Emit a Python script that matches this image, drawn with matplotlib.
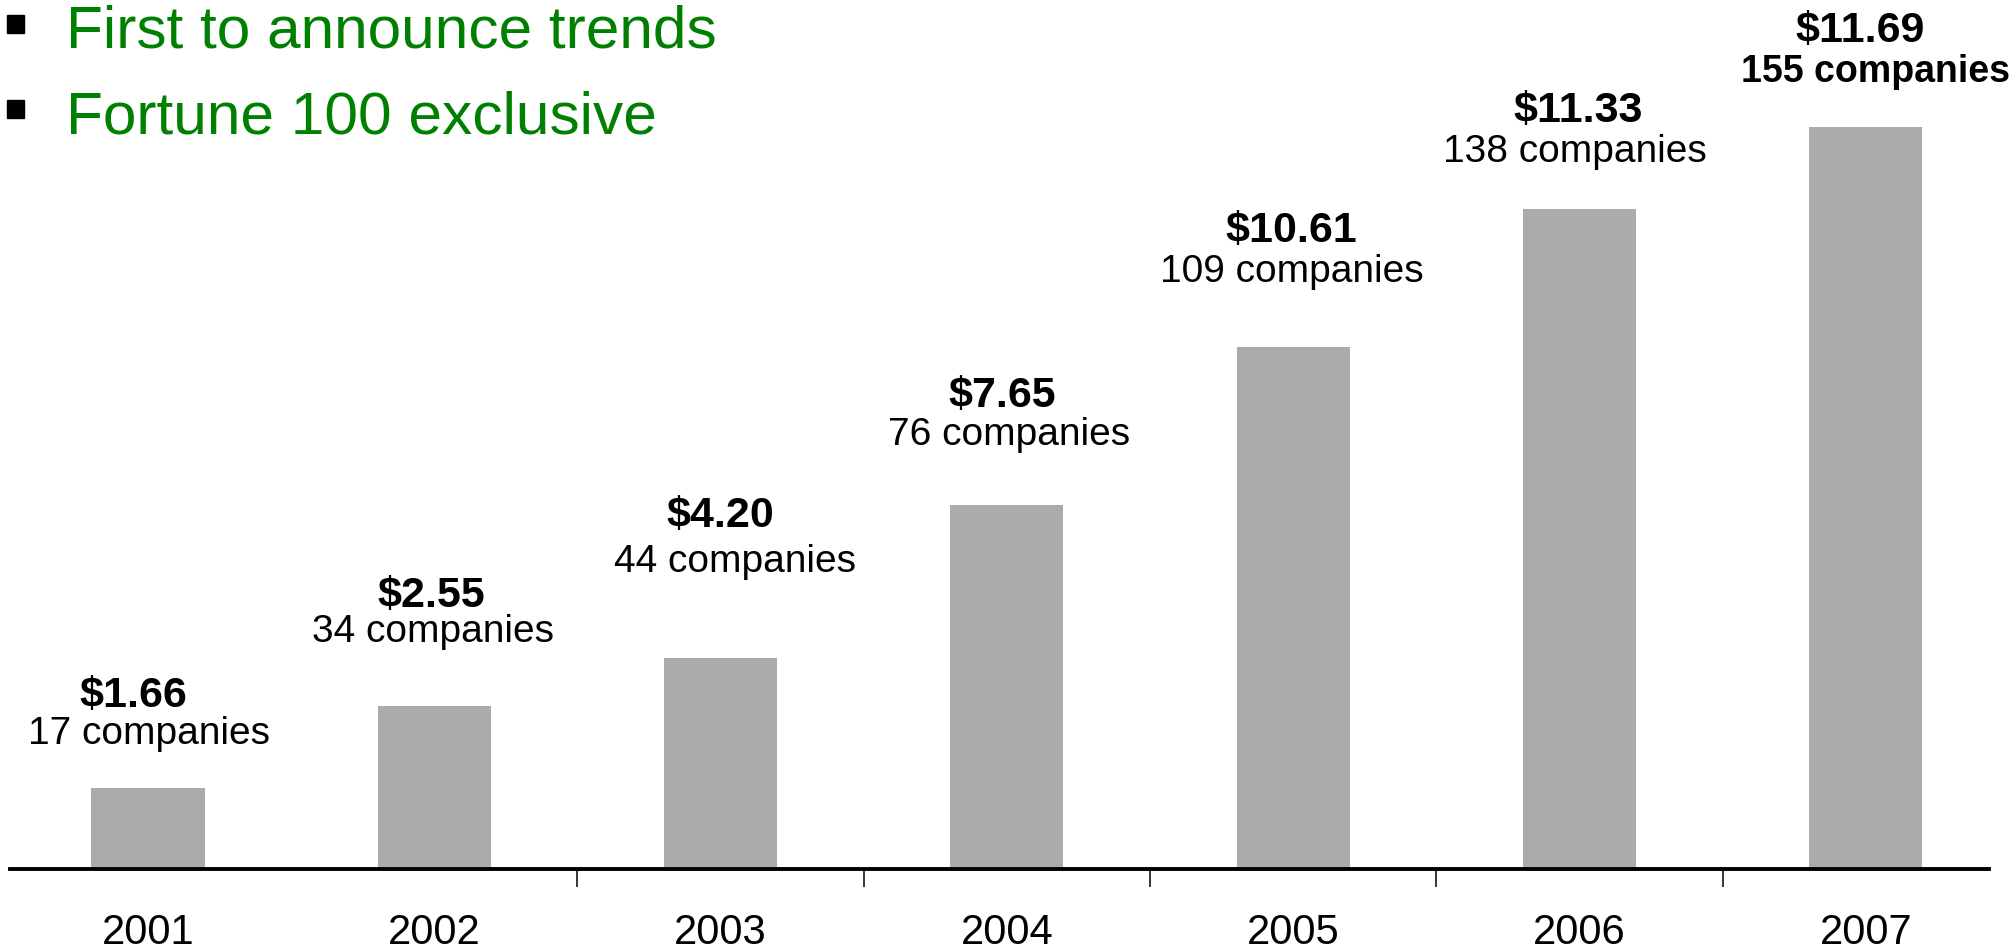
import matplotlib.pyplot as plt
from matplotlib.patches import Rectangle

# Datos
anios = ["2001", "2002", "2003", "2004", "2005", "2006", "2007"]
empresas = [17, 34, 44, 76, 109, 138, 155]
montos = [1.66, 2.55, 4.20, 7.65, 10.61, 11.33, 11.69]
puntos = ["First to announce trends", "Fortune 100 exclusive"]

plt.rcParams["font.family"] = ["Liberation Sans", "DejaVu Sans"]

W, H = 2015, 951
fig = plt.figure(figsize=(W / 100, H / 100), dpi=100)
ax = fig.add_axes([10 / W, 82 / H, 1979 / W, 869 / H])

x = list(range(len(anios)))
barras = ax.bar(x, empresas, width=0.395, color="#ababab")

ax.set_xlim(-0.482, 6.43)
ax.set_ylim(0, 181.6)

# Ejes: solo la linea inferior
for lado in ["left", "right", "top"]:
    ax.spines[lado].set_visible(False)
ax.spines["bottom"].set_linewidth(2.8)
ax.set_yticks([])

ax.set_xticks(x)
ax.set_xticklabels(anios, fontsize=30, va="baseline")
ax.tick_params(axis="x", which="major", length=0, pad=54)
ax.set_xticks([1.5, 2.5, 3.5, 4.5, 5.5], minor=True)
ax.tick_params(axis="x", which="minor", direction="out", length=13,
               width=1.1, color="black")

# Etiquetas sobre cada barra (desplazamiento en pixeles)
dy_monto = [81, 99, 131, 98, 105, 87, 85]
dy_emp = [44, 64, 86, 60, 65, 47, 45]
dx_monto = [-15, -3, 0, -5, -2, -1, -6]
dx_emp = [1, -1, 14, 2, -1, -5, 10]

for i, b in enumerate(barras):
    cx = b.get_x() + b.get_width() / 2
    ax.annotate(f"${montos[i]:.2f}", (cx, empresas[i]),
                xytext=(dx_monto[i], dy_monto[i]), textcoords="offset pixels",
                ha="center", va="baseline", fontsize=31, fontweight="bold")
    ultimo = i == len(barras) - 1
    ax.annotate(f"{empresas[i]} companies", (cx, empresas[i]),
                xytext=(dx_emp[i], dy_emp[i]), textcoords="offset pixels",
                ha="center", va="baseline",
                fontsize=27 if ultimo else 28,
                fontweight="bold" if ultimo else "normal")

# Vinetas en verde
for j, texto in enumerate(puntos):
    base = 48 + 85 * j
    fig.text(66 / W, 1 - base / H, texto, fontsize=43.5, color="#008000",
             va="baseline", ha="left")
    fig.add_artist(Rectangle((7 / W, 1 - (base - 15) / H), 17 / W, 18 / H,
                             transform=fig.transFigure, color="black"))

plt.savefig("out.png", dpi=100)
